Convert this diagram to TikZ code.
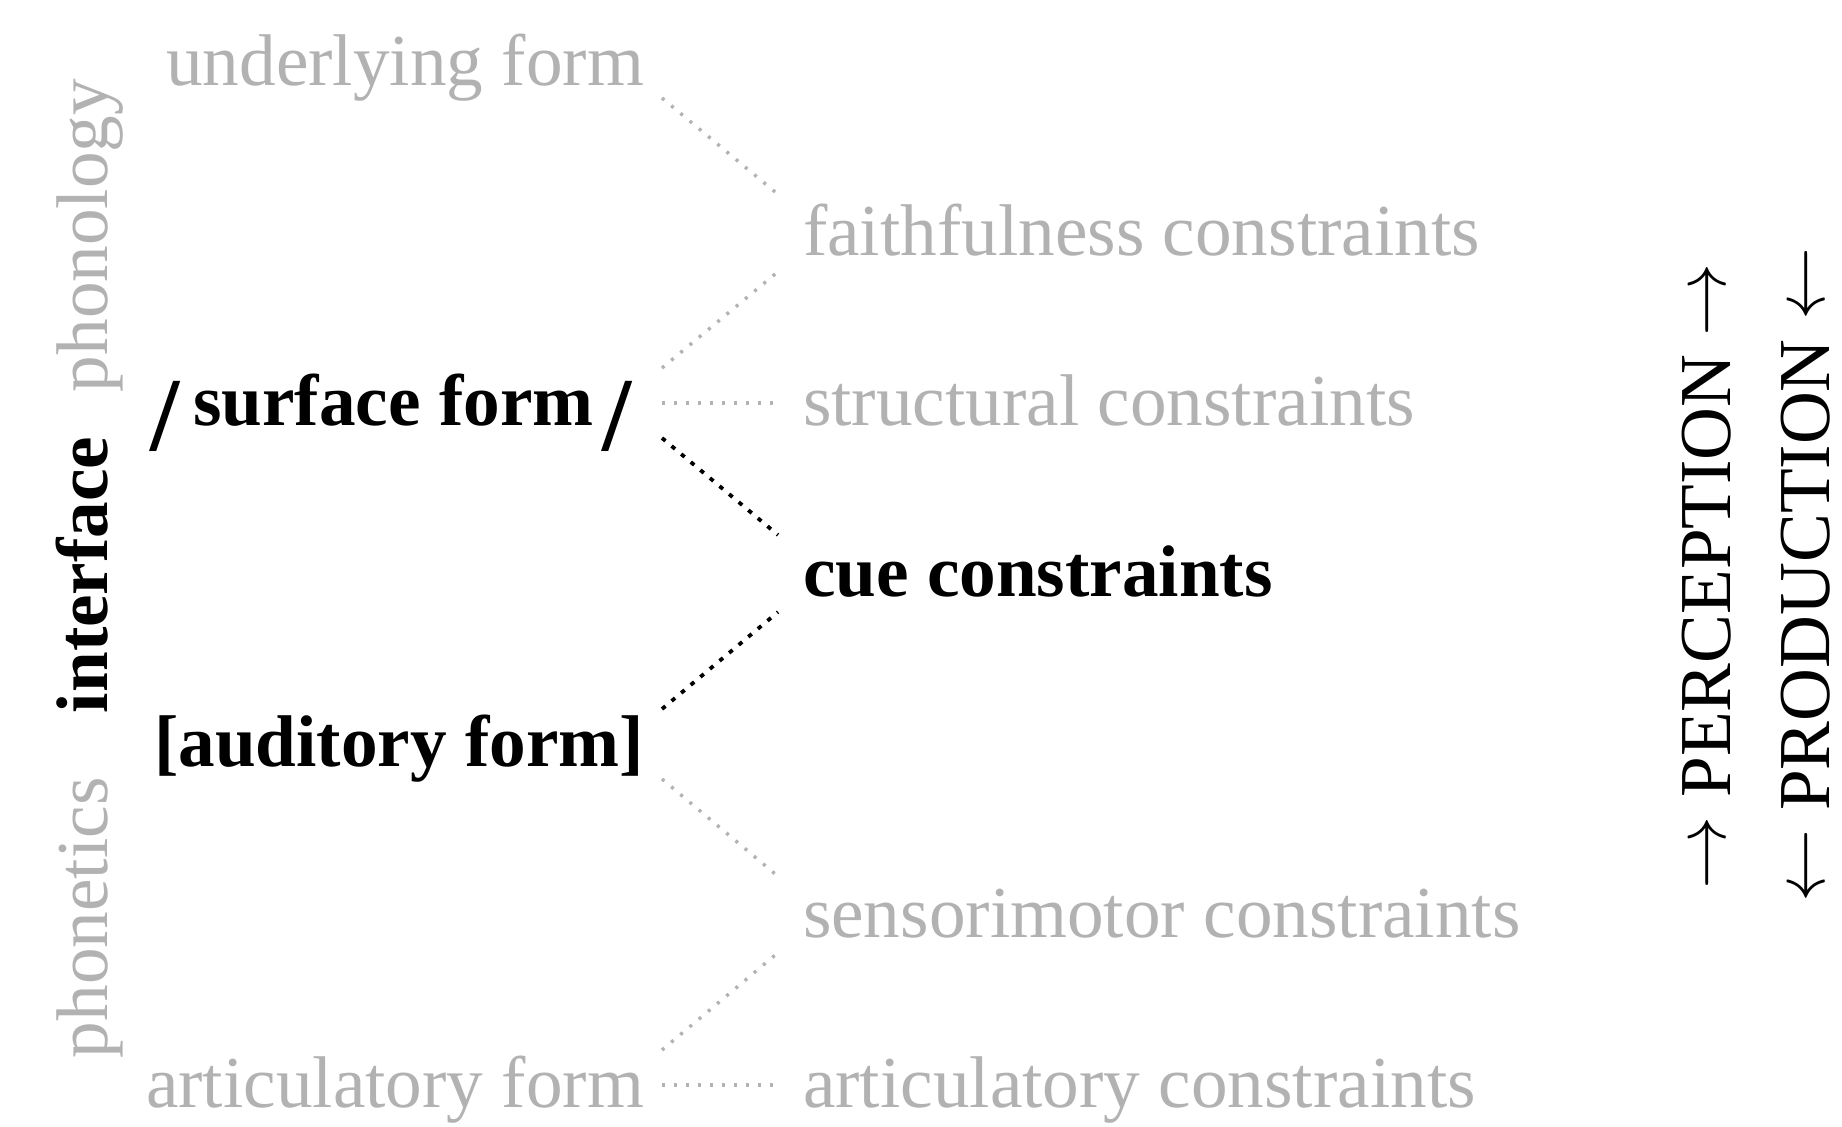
\RequirePackage{fix-cm}
\documentclass[tikz,border=0pt]{standalone}
\usepackage{fontspec}
\setmainfont{Liberation Serif}
\definecolor{lightgr}{gray}{0.70}
\newcommand{\bigslash}{\raisebox{-25pt}{\fontsize{105}{105}\selectfont/}}
\newcommand{\rarr}{\raisebox{5pt}{$\rightarrow$}}
\newcommand{\larr}{\raisebox{5pt}{$\leftarrow$}}
\begin{document}
\begin{tikzpicture}[x=1pt,y=-1pt,
  txt/.style={inner sep=0pt, outer sep=0pt, font=\fontsize{73.2}{80}\selectfont},
  faint/.style={txt, text=lightgr},
  strong/.style={txt, text=black, font=\fontsize{73.2}{80}\selectfont\bfseries},
  gdots/.style={draw=lightgr, line width=3.4pt, dash pattern=on 3pt off 9pt},
  bdots/.style={draw=black, line width=3.8pt, dash pattern=on 4.5pt off 8pt},
]
\path[use as bounding box, fill=white] (0,0) rectangle (1842,1127);

% left column
\node[faint, anchor=base east] (uf) at (644,85) {underlying form};
\node[strong, anchor=base west] (sf) at (150,425) {\bigslash\kern14pt surface form\kern9pt\bigslash};
\node[strong, anchor=base east] (af) at (644,766) {[auditory form]};
\node[faint, anchor=base east] (arf) at (644,1107) {articulatory form};

% right column
\node[faint, anchor=base west] (fc) at (803,255) {faithfulness constraints};
\node[faint, anchor=base west] (stc) at (803,425) {structural constraints};
\node[strong, anchor=base west] (cc) at (803,596) {cue constraints};
\node[faint, anchor=base west] (smc) at (803,937) {sensorimotor constraints};
\node[faint, anchor=base west] (arc) at (803,1107) {articulatory constraints};

% vertical labels
\node[faint, rotate=90, anchor=base west] (phon) at (107,1058) {phonetics};
\node[strong, rotate=90, anchor=base west] (intf) at (107,713) {interface};
\node[faint, rotate=90, anchor=base west] (phol) at (107,392) {phonology};

\node[txt, rotate=90, anchor=base] (perc) at (1730,576) {\rarr\ PERCEPTION \rarr};
\node[txt, rotate=90, anchor=base] (prod) at (1829,575) {\larr\ PRODUCTION \larr};

% connector end points
\coordinate (ufR) at (662,98);
\coordinate (sfRu) at (662,368);
\coordinate (sfRm) at (662,403);
\coordinate (sfRd) at (662,438);
\coordinate (afRu) at (662,709);
\coordinate (afRd) at (662,779);
\coordinate (arfRu) at (662,1050);
\coordinate (arfRm) at (662,1085);
\coordinate (fcLu) at (780,196);
\coordinate (fcLd) at (780,270);
\coordinate (stcL) at (780,403);
\coordinate (ccLu) at (778,535);
\coordinate (ccLd) at (778,612);
\coordinate (smcLu) at (780,878);
\coordinate (smcLd) at (780,951);
\coordinate (arcL) at (780,1085);

\draw[gdots] (ufR) -- (fcLu);
\draw[gdots] (sfRu) -- (fcLd);
\draw[gdots] (sfRm) -- (stcL);
\draw[bdots] (sfRd) -- (ccLu);
\draw[bdots] (afRu) -- (ccLd);
\draw[gdots] (afRd) -- (smcLu);
\draw[gdots] (arfRu) -- (smcLd);
\draw[gdots] (arfRm) -- (arcL);
\end{tikzpicture}
\end{document}
